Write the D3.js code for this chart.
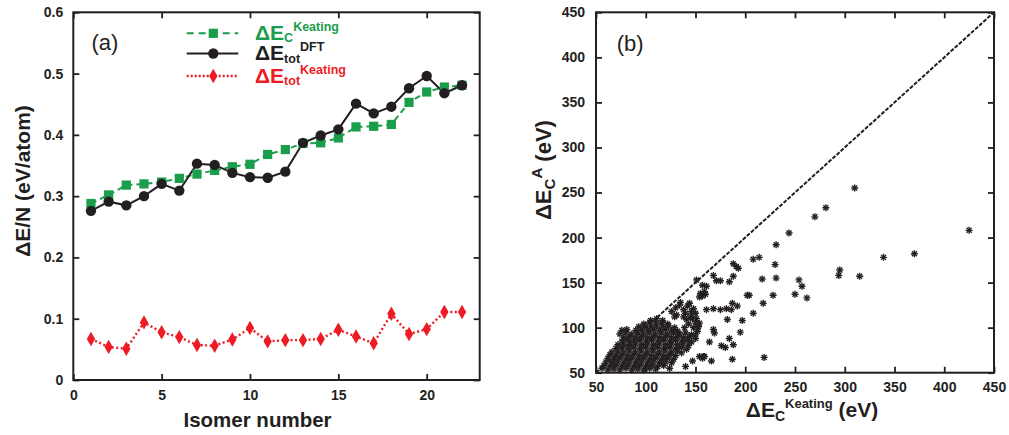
<!DOCTYPE html>
<html><head><meta charset="utf-8">
<script src="https://cdn.jsdelivr.net/npm/d3@7"></script>
<style>
body{margin:0;background:#fff}
text{font-family:"Liberation Sans",Arial,Helvetica,sans-serif}
</style>
</head><body>
<svg id="c" width="1009" height="435"></svg>
<script>
// ---------- Panel (a) data ----------
const isomerNumber = [1,2,3,4,5,6,7,8,9,10,11,12,13,14,15,16,17,18,19,20,21,22];
const dEcKeating  = [0.288,0.302,0.318,0.320,0.323,0.329,0.336,0.342,0.348,0.352,0.368,0.376,0.386,0.387,0.395,0.413,0.414,0.417,0.453,0.470,0.478,0.481];
const dEtotDFT    = [0.276,0.291,0.285,0.300,0.320,0.309,0.353,0.351,0.338,0.331,0.330,0.340,0.387,0.399,0.409,0.451,0.435,0.446,0.476,0.496,0.468,0.481];
const dEtotKeating= [0.067,0.054,0.051,0.094,0.078,0.070,0.057,0.056,0.066,0.085,0.063,0.065,0.065,0.067,0.082,0.071,0.060,0.108,0.075,0.083,0.111,0.111];
const xTicksA = [0,5,10,15,20];
const yTicksA = [0,0.1,0.2,0.3,0.4,0.5,0.6];
const yTickLabelsA = ["0","0.1","0.2","0.3","0.4","0.5","0.6"];

// ---------- Panel (b) data : [ΔEc Keating, ΔEc A] ----------
const scatterPoints = [
[62,53],[68,54],[74,53],[80,55],[86,53],[92,54],[98,53],[104,55],[110,54],[124,55],[140,57],[56,55],
[58,58],[64,57],[70,58],[76,57],[82,58],[88,57],[94,58],[100,57],[106,58],[112,57],[118,58],
[60,62],[66,61],[72,62],[78,61],[84,62],[90,61],[96,62],[102,61],[108,62],[114,61],[120,62],[126,61],[147,63],
[62,66],[68,65],[74,66],[80,65],[86,66],[92,65],[98,66],[104,65],[110,66],[116,65],[122,66],[128,65],[157,66],[159,68],
[64,70],[70,69],[76,70],[82,69],[88,70],[94,69],[100,70],[106,69],[112,70],[118,69],[124,70],[130,69],
[66,73],[72,74],[78,73],[84,74],[90,73],[96,74],[102,73],[108,74],[114,73],[120,74],[126,73],[132,74],[136,72],
[70,77],[76,78],[82,77],[88,78],[94,77],[100,78],[106,77],[112,78],[118,77],[124,78],[130,77],[136,78],[141,76],
[72,81],[78,82],[84,81],[90,82],[96,81],[102,82],[108,81],[114,82],[120,81],[126,82],[132,81],[138,82],[143,80],
[76,85],[82,86],[88,85],[94,86],[100,85],[106,86],[112,85],[118,86],[124,85],[130,86],[136,85],[142,86],[146,84],
[78,89],[84,90],[90,89],[96,90],[102,89],[108,90],[114,89],[120,90],[126,89],[132,90],[138,89],[144,90],[150,88],
[74,93],[80,94],[86,93],[92,94],[98,93],[104,94],[110,93],[116,94],[122,93],[128,94],[134,93],[140,94],
[76,97],[81,98],[90,97],[96,98],[102,97],[108,98],[114,97],[120,98],[126,97],[132,96],[152,96],
[93,101],[99,102],[105,101],[111,102],[117,101],[123,102],[129,100],[153,101],
[98,104],[104,106],[110,105],[116,106],[122,104],[154,105],
[105,108],[111,110],[117,108],[129,112],[151,110],
[126,118],[130,122],[134,125],[138,120],[142,124],[146,118],[140,116],[135,128],[131,114],[144,127],[148,121],[150,116],
[146,92],[148,100],[150,92],[147,110],[143,104],[139,100],[141,109],[138,112],[145,112],[150,105],
[154,68],[158,68],[166,63],[164,84],[168,98],[169,94],[176,80],[180,78],[188,81],[184,88],[187,65],[195,95],[197,108],[182,109],
[208,116],[187,127],[192,124],[161,120],[168,121],[175,120],[181,121],[186,120],[218,127],[202,136],[204,136],[228,136],[250,137],[262,133],
[155,138],[157,135],[159,140],[160,137],[154,134],[157,147],[161,146],[151,153],[168,158],[171,152],[175,152],[184,151],[188,157],
[217,154],[231,155],[254,153],[257,146],[294,158],[295,164],[315,157],[188,171],[191,168],[193,166],[208,176],[214,178],[230,170],
[231,192],[244,205],[270,223],[281,233],[310,255],[339,178],[370,182],[425,208],[219,67]
];
const ticksB = [50,100,150,200,250,300,350,400,450];
const diagonal = [[50,50],[450,450]];

// ---------- colours ----------
const GREEN = "#1a9e4b", RED = "#ed1c24", BLACK = "#231f20";

const svg = d3.select("#c");

function frameAxes(g, x, y, xt, yt, ytFmt, padX, padY) {
  const [x0,x1] = x.range(), [y0,y1] = y.range();
  const bottom = g.append("g").attr("transform",`translate(0,${y0})`)
    .call(d3.axisBottom(x).tickValues(xt).tickSizeInner(-6).tickSizeOuter(0).tickPadding(padX));
  const left = g.append("g").attr("transform",`translate(${x0},0)`)
    .call(d3.axisLeft(y).tickValues(yt).tickFormat(ytFmt).tickSizeInner(-6).tickSizeOuter(0).tickPadding(padY));
  const top = g.append("g").attr("transform",`translate(0,${y1})`)
    .call(d3.axisTop(x).tickValues(xt).tickSizeInner(-6).tickSizeOuter(0).tickFormat(""));
  const right = g.append("g").attr("transform",`translate(${x1},0)`)
    .call(d3.axisRight(y).tickValues(yt).tickSizeInner(-6).tickSizeOuter(0).tickFormat(""));
  [bottom,left,top,right].forEach(a=>{
    a.select(".domain").remove();
    a.selectAll(".tick line").attr("stroke",BLACK).attr("stroke-width",1.8);
    a.selectAll(".tick text").attr("fill",BLACK).attr("font-size",14).attr("font-weight","bold")
      .attr("font-family",'"Liberation Sans",Arial,sans-serif');
  });
  g.append("rect").attr("x",x0).attr("y",y1).attr("width",x1-x0).attr("height",y0-y1)
    .attr("fill","none").attr("stroke",BLACK).attr("stroke-width",2);
}

// ================= Panel (a) =================
const xa = d3.scaleLinear().domain([0,23]).range([73.3,479.7]);
const ya = d3.scaleLinear().domain([0,0.6]).range([380,12.3]);
const ga = svg.append("g");

const lineA = (vals)=>d3.line().x((d,i)=>xa(isomerNumber[i])).y(d=>ya(d))(vals);

ga.append("path").attr("d",lineA(dEcKeating)).attr("fill","none").attr("stroke",GREEN)
  .attr("stroke-width",2).attr("stroke-dasharray","6,4");
ga.append("path").attr("d",lineA(dEtotDFT)).attr("fill","none").attr("stroke",BLACK).attr("stroke-width",2);
ga.append("path").attr("d",lineA(dEtotKeating)).attr("fill","none").attr("stroke",RED)
  .attr("stroke-width",2.4).attr("stroke-dasharray","2,2.5");

const sq = d3.symbol().type(d3.symbolSquare).size(85);
const ci = d3.symbol().type(d3.symbolCircle).size(85);
const di = d3.symbol().type(d3.symbolDiamond).size(60);

ga.selectAll(".sq").data(dEcKeating).join("path")
  .attr("d",sq).attr("transform",(d,i)=>`translate(${xa(isomerNumber[i])},${ya(d)})`).attr("fill",GREEN);
ga.selectAll(".ci").data(dEtotDFT).join("path")
  .attr("d",ci).attr("transform",(d,i)=>`translate(${xa(isomerNumber[i])},${ya(d)})`).attr("fill",BLACK);
ga.selectAll(".di").data(dEtotKeating).join("path")
  .attr("d",di).attr("transform",(d,i)=>`translate(${xa(isomerNumber[i])},${ya(d)})`).attr("fill",RED);

frameAxes(ga, xa, ya, xTicksA, yTicksA, (d,i)=>yTickLabelsA[i], 10, 10);

// legend
const legend = [
  {stroke:GREEN, dash:"7,5", w:2, sym:sq, main:"ΔE", sub:"C", sup:"Keating", y:33.3, base:39.5},
  {stroke:BLACK, dash:null, w:2, sym:ci, main:"ΔE", sub:"tot", sup:"DFT", y:53.5, base:60},
  {stroke:RED, dash:"2,2", w:2.4, sym:di, main:"ΔE", sub:"tot", sup:"Keating", y:76, base:82.5}
];
legend.forEach(l=>{
  const ln = ga.append("line").attr("x1",186.7).attr("x2",238.3).attr("y1",l.y).attr("y2",l.y)
    .attr("stroke",l.stroke).attr("stroke-width",l.w);
  if (l.dash) ln.attr("stroke-dasharray",l.dash);
  ga.append("path").attr("d",l.sym).attr("transform",`translate(213.3,${l.y})`).attr("fill",l.stroke);
  const t = ga.append("text").attr("x",255).attr("y",l.base).attr("fill",l.stroke)
    .attr("font-weight","bold").attr("font-size",21);
  t.append("tspan").text(l.main);
  t.append("tspan").attr("font-size",12.5).attr("dy",2.5).text(l.sub);
  t.append("tspan").attr("font-size",12.5).attr("dy",-11.5).text(l.sup);
});

ga.append("text").attr("x",91.5).attr("y",50).attr("font-size",22).attr("fill",BLACK).text("(a)");
ga.append("text").attr("x",257.5).attr("y",427).attr("text-anchor","middle")
  .attr("font-size",20.5).attr("font-weight","bold").attr("fill",BLACK).text("Isomer number");
ga.append("text").attr("transform","translate(30,181) rotate(-90)").attr("text-anchor","middle")
  .attr("font-size",21).attr("font-weight","bold").attr("fill",BLACK).text("ΔE/N (eV/atom)");

// ================= Panel (b) =================
const xb = d3.scaleLinear().domain([50,450]).range([596,994]);
const yb = d3.scaleLinear().domain([50,450]).range([372.7,12.3]);
const gb = svg.append("g");

gb.append("path").attr("d",d3.line().x(d=>xb(d[0])).y(d=>yb(d[1]))(diagonal))
  .attr("fill","none").attr("stroke",BLACK).attr("stroke-width",2).attr("stroke-dasharray","4,1.5");

const plus = d3.symbol().type(d3.symbolPlus).size(18);
const times = d3.symbol().type(d3.symbolTimes).size(18);
const pts = gb.selectAll(".pt").data(scatterPoints).join("g")
  .attr("transform",d=>`translate(${xb(d[0])},${yb(d[1])})`);
pts.append("path").attr("d",plus).attr("fill","none").attr("stroke",BLACK).attr("stroke-width",1.4);
pts.append("path").attr("d",times).attr("fill","none").attr("stroke",BLACK).attr("stroke-width",1.4);

frameAxes(gb, xb, yb, ticksB, ticksB, d=>d, 9, 11);

gb.append("text").attr("x",616.7).attr("y",51).attr("font-size",22).attr("fill",BLACK).text("(b)");

const xl = gb.append("text").attr("x",812).attr("y",416.7).attr("text-anchor","middle")
  .attr("font-size",21).attr("font-weight","bold").attr("fill",BLACK);
xl.append("tspan").text("ΔE");
xl.append("tspan").attr("font-size",14).attr("dy",4).text("C");
xl.append("tspan").attr("font-size",13).attr("dy",-13).text("Keating");
xl.append("tspan").attr("dy",9).text(" (eV)");

const yl = gb.append("text").attr("transform","translate(551,170) rotate(-90)").attr("text-anchor","middle")
  .attr("font-size",22).attr("font-weight","bold").attr("fill",BLACK);
yl.append("tspan").text("ΔE");
yl.append("tspan").attr("font-size",15).attr("dy",4).text("C");
yl.append("tspan").attr("font-size",15).attr("dy",-13).text("A");
yl.append("tspan").attr("dy",9).text(" (eV)");
</script>
</body></html>
